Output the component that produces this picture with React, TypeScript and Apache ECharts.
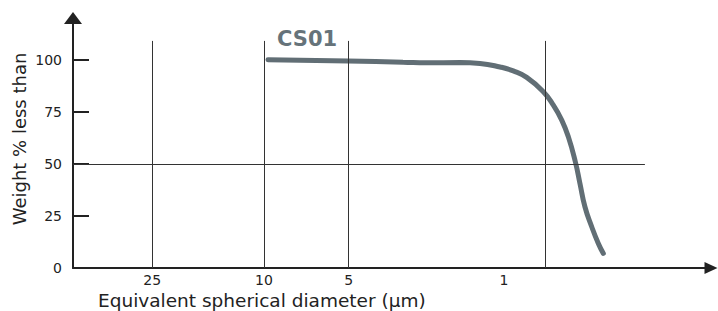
import React, { useEffect, useRef } from "react";
import * as echarts from "echarts";

// Particle size distribution, CS01
const diameters = [9.68, 5.02, 3.2, 2.64, 2.007, 1.704, 1.446, 1.297, 1.162, 1.014, 0.934, 0.872, 0.826, 0.78, 0.751, 0.721, 0.682, 0.646, 0.62];
const weightPct = [100, 99.4, 98.8, 98.5, 98.6, 98.2, 96.5, 94.6, 91.5, 84.6, 78.2, 71.0, 63.0, 51.0, 40.6, 29.4, 19.8, 11.8, 7.0];

const gridDiameters = [25, 10, 5, 1];
const xLabelValues = [25, 10, 5, 1.4];
const xLabelTexts = ["25", "10", "5", "1"];
const yLabelValues = [0, 25, 50, 75, 100];
const yTickValues = [25, 50, 75, 100];

const seriesName = "CS01";
const xName = "Equivalent spherical diameter (µm)";
const yName = "Weight % less than";

const X_MIN = 0.2566;
const X_MAX = 47.84;
const Y_MAX = 120;
const FONT = "DejaVu Sans, Verdana, sans-serif";

export default function App() {
  const ref = useRef<HTMLDivElement>(null);
  useEffect(() => {
    if (!ref.current) return;
    const chart = echarts.init(ref.current, null, { renderer: "svg" });
    const vLines = gridDiameters.map((d) => [
      { coord: [d, 0] },
      { coord: [d, 109] },
    ]);
    const hLine = [{ coord: [X_MAX, 50] }, { coord: [0.441, 50] }];
    chart.setOption({
      animation: false,
      title: {
        text: seriesName,
        left: 277,
        top: 28,
        padding: 0,
        textStyle: { fontFamily: FONT, fontSize: 21, fontWeight: "bold", color: "#66737a" },
      },
      grid: { left: 73, right: 7, top: 18, bottom: 43, containLabel: false },
      xAxis: {
        type: "log",
        inverse: true,
        min: X_MIN,
        max: X_MAX,
        axisLine: {
          show: true,
          lineStyle: { color: "#222", width: 2 },
          symbol: ["none", "triangle"],
          symbolSize: [12, 13],
        },
        axisTick: { show: false },
        splitLine: { show: false },
        minorTick: { show: false },
        minorSplitLine: { show: false },
        axisLabel: {
          customValues: xLabelValues,
          formatter: (v: number) => {
            let best = 0;
            xLabelValues.forEach((x, i) => {
              if (Math.abs(x - v) < Math.abs(xLabelValues[best] - v)) best = i;
            });
            return xLabelTexts[best];
          },
          fontFamily: FONT,
          fontSize: 14,
          color: "#222",
          margin: 5,
        },
      },
      yAxis: {
        type: "value",
        min: 0,
        max: Y_MAX,
        axisLine: {
          show: true,
          lineStyle: { color: "#222", width: 2 },
          symbol: ["none", "triangle"],
          symbolSize: [18, 12],
        },
        axisTick: {
          show: true,
          inside: true,
          length: 16,
          customValues: yTickValues,
          lineStyle: { color: "#222", width: 2 },
        },
        splitLine: { show: false },
        axisLabel: {
          customValues: yLabelValues,
          fontFamily: FONT,
          fontSize: 14,
          color: "#222",
          margin: 11,
        },
      },
      graphic: [
        {
          type: "text",
          x: 98,
          y: 300,
          style: {
            text: xName,
            fontFamily: FONT,
            fontSize: 18.5,
            fill: "#222",
            align: "left",
            verticalAlign: "middle",
          },
        },
        {
          type: "text",
          x: 19.5,
          y: 139,
          rotation: Math.PI / 2,
          style: {
            text: yName,
            fontFamily: FONT,
            fontSize: 18,
            fill: "#222",
            align: "center",
            verticalAlign: "middle",
          },
        },
      ],
      series: [
        {
          name: seriesName,
          type: "line",
          data: diameters.map((d, i) => [d, weightPct[i]]),
          smooth: 0.5,
          showSymbol: false,
          lineStyle: { color: "#616e75", width: 5, cap: "round" },
          z: 3,
          markLine: {
            silent: true,
            symbol: ["none", "none"],
            label: { show: false },
            lineStyle: { color: "#333", width: 1, type: "solid" },
            data: [...vLines, hLine],
          },
        },
      ],
    });
    return () => chart.dispose();
  }, []);
  return (
    <div
      ref={ref}
      style={{ position: "fixed", left: 0, top: 0, width: 718, height: 311, background: "#fff" }}
    />
  );
}
